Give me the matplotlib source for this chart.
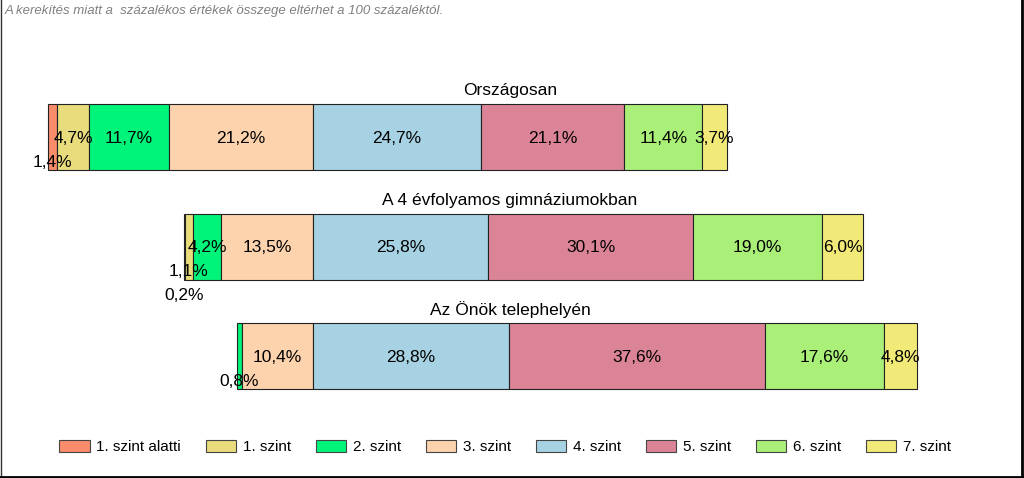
import matplotlib
matplotlib.use("Agg")
import matplotlib.pyplot as plt
from matplotlib.patches import Patch
from matplotlib.lines import Line2D

plt.rcParams['font.family'] = ['Liberation Sans', 'DejaVu Sans']

groups = ["Országosan", "A 4 évfolyamos gimnáziumokban", "Az Önök telephelyén"]
levels = ["1. szint alatti", "1. szint", "2. szint", "3. szint",
          "4. szint", "5. szint", "6. szint", "7. szint"]
colors = ["#F98D6B", "#E8DC7C", "#00F47A", "#FDD3AE",
          "#A6D2E3", "#DC8497", "#A9EF78", "#F2EA78"]

orszagos = [1.4, 4.7, 11.7, 21.2, 24.7, 21.1, 11.4, 3.7]
gimnazium = [0.2, 1.1, 4.2, 13.5, 25.8, 30.1, 19.0, 6.0]
telephely = [0.0, 0.0, 0.8, 10.4, 28.8, 37.6, 17.6, 4.8]
data = [orszagos, gimnazium, telephely]

note = "A kerekítés miatt a  százalékos értékek összege eltérhet a 100 százaléktól."

W, H = 1024, 478
fig = plt.figure(figsize=(W / 100, H / 100), dpi=100)
ax = fig.add_axes([0, 0, 1, 1])
ax.axis('off')

# x: 0 = border between 3. and 4. szint (px 313), 6.8 px per percent
x0, scale = 313, 6.8
ax.set_xlim(-x0 / scale, (W - x0) / scale)
# y: rows 0,1,2 at px 137, 246.5, 356
row_px, top_px = 109.5, 137
ax.set_ylim((H - top_px) / row_px, -top_px / row_px)

bar_h = 66 / row_px
for i, vals in enumerate(data):
    left = -sum(vals[:4])
    starts = []
    for j, v in enumerate(vals):
        starts.append(left)
        if v > 0:
            ax.barh(i, v, left=left, height=bar_h, color=colors[j],
                    edgecolor="#222222", linewidth=0.8)
        left += v
    # labels; tiny segments staggered below
    k = 0
    offs = {}
    for j in range(3, -1, -1):
        if 0 < vals[j] < 2:
            k += 1
            offs[j] = k * 24 / row_px
    for j, v in enumerate(vals):
        if v <= 0:
            continue
        txt = f"{v:.1f}".replace('.', ',') + '%'
        ax.text(starts[j] + v / 2, i + offs.get(j, 0) + 0.01, txt,
                ha='center', va='center', fontsize=12.5, color='black')
    ax.text((W / 2 - x0 - 2) / scale, i - 46 / row_px, groups[i],
            ha='center', va='center', fontsize=12.5)

fig.text(5 / W, 1 - 11 / H, note, ha='left', va='center', fontsize=9.5,
         style='italic', color='#808080')

handles = [Patch(facecolor=c, edgecolor="#444444", linewidth=0.8) for c in colors]
fig.legend(handles, levels, loc='center', bbox_to_anchor=(505 / W, 1 - 447 / H),
           ncol=8, frameon=False, fontsize=11, handlelength=2.0,
           handleheight=0.9, columnspacing=1.6, handletextpad=0.45)

# frame: thin left, heavier right and bottom
fig.add_artist(Line2D([0.5 / W, 0.5 / W], [0, 1], transform=fig.transFigure,
                      color='#333333', linewidth=1))
fig.add_artist(Line2D([1021.5 / W, 1021.5 / W], [1.5 / H, 1], transform=fig.transFigure,
                      color='black', linewidth=2))
fig.add_artist(Line2D([0, 1022.5 / W], [1.5 / H, 1.5 / H], transform=fig.transFigure,
                      color='black', linewidth=2))

fig.savefig("out.png", dpi=100)
